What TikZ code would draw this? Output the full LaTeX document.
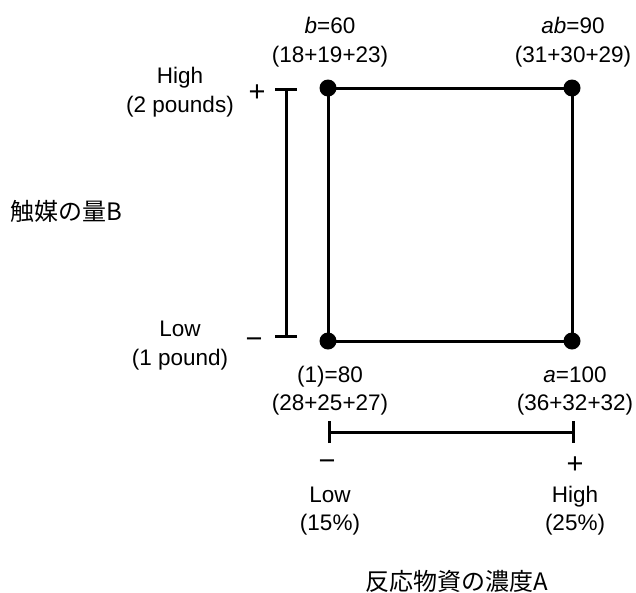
\documentclass[tikz,border=0pt]{standalone}
\usepackage{fontspec}
\setmainfont{Liberation Sans}
\newfontfamily\cjk{Noto Sans CJK JP}
\usetikzlibrary{arrows.meta}
\begin{document}
\begin{tikzpicture}[x=1pt,y=-1pt,
  lbl/.style={anchor=base,inner sep=0pt,font=\fontsize{22.5}{28}\selectfont},
  cjklbl/.style={inner sep=0pt,font=\fontsize{24}{28}\selectfont\cjk},
  sgn/.style={anchor=base,inner sep=0pt,font=\fontsize{29}{30}\selectfont},
  dotn/.style={circle,fill=black,inner sep=0pt,minimum size=17pt},
  edge/.style={line width=3pt},
  levelbar/.style={line width=3pt,{Bar[width=22pt,line width=3pt]}-{Bar[width=22pt,line width=3pt]}},
]
\useasboundingbox (0,0) rectangle (636,592);
% corners
\coordinate (p00) at (328,341);
\coordinate (p10) at (572,341);
\coordinate (p01) at (328,88);
\coordinate (p11) at (572,88);
\draw[edge] (p00) -- (p10) -- (p11) -- (p01) -- cycle;
\node[dotn] (c00) at (p00) {};
\node[dotn] (c10) at (p10) {};
\node[dotn] (c01) at (p01) {};
\node[dotn] (c11) at (p11) {};
% range bars
\coordinate (bt) at (286,88);
\coordinate (bb) at (286,338);
\draw[levelbar] (bt) -- (bb);
\coordinate (al) at (328,432);
\coordinate (ar) at (575,432);
\draw[levelbar] (al) -- (ar);
% signs
\node[sgn] (bplus) at (257,101) {+};
\node[sgn] (bminus) at (254,348) {−};
\node[sgn] (aminus) at (327,470) {−};
\node[sgn] (aplus) at (575,473) {+};
% corner labels
\node[lbl] (lb1) at (330,33) {\textit{b}=60};
\node[lbl] (lb2) at (330,62) {(18+19+23)};
\node[lbl] (lab1) at (573,33) {\textit{ab}=90};
\node[lbl] (lab2) at (573,62) {(31+30+29)};
\node[lbl] (l11) at (330,382) {(1)=80};
\node[lbl] (l12) at (330,410) {(28+25+27)};
\node[lbl] (la1) at (575,382) {\textit{a}=100};
\node[lbl] (la2) at (575,410) {(36+32+32)};
% factor B levels
\node[lbl] (bh1) at (180,83) {High};
\node[lbl] (bh2) at (180,112) {(2 pounds)};
\node[lbl] (bl1) at (180,336) {Low};
\node[lbl] (bl2) at (180,365) {(1 pound)};
% factor A levels
\node[lbl] (al1) at (330,502) {Low};
\node[lbl] (al2) at (330,530) {(15\%)};
\node[lbl] (ah1) at (575,502) {High};
\node[lbl] (ah2) at (575,530) {(25\%)};
% axis titles
\node[cjklbl,anchor=base west] (tb) at (10,220) {触媒の量B};
\node[cjklbl,anchor=base] (ta) at (457,590) {反応物資の濃度A};
\end{tikzpicture}
\end{document}
